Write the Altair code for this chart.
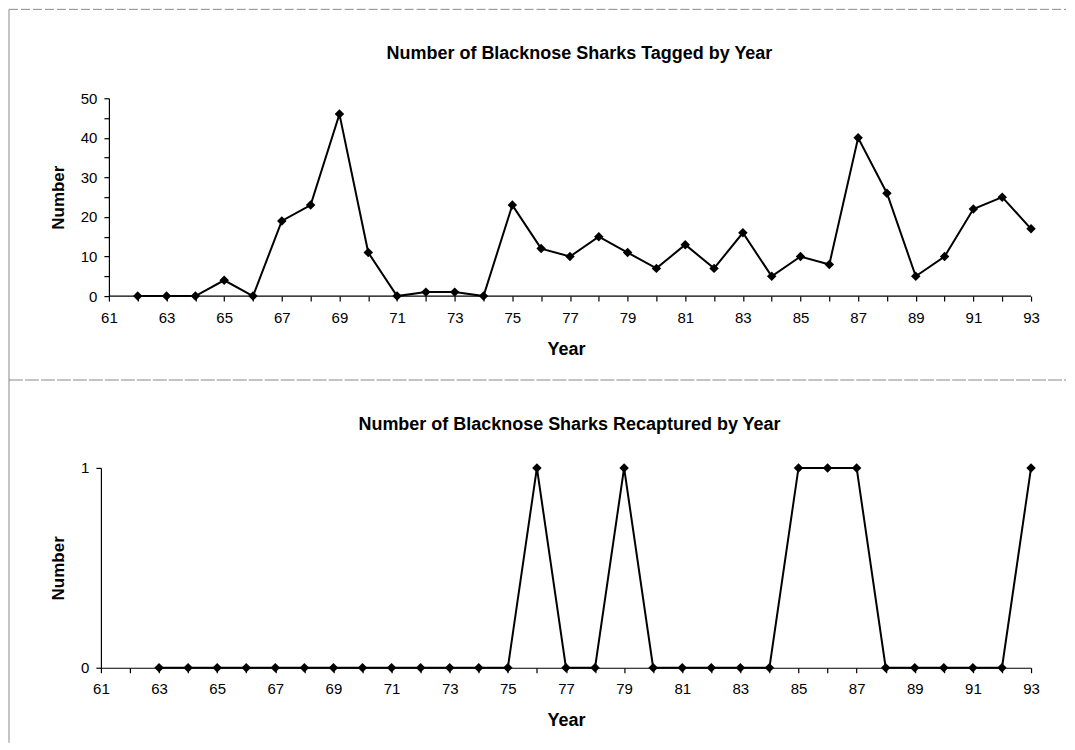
import altair as alt
import pandas as pd

# ---- data ----
tag_years = [62, 63, 64, 65, 66, 67, 68, 69, 70, 71, 72, 73, 74, 75, 76, 77,
             78, 79, 80, 81, 82, 83, 84, 85, 86, 87, 88, 89, 90, 91, 92, 93]
tagged = [0, 0, 0, 4, 0, 19, 23, 46, 11, 0, 1, 1, 0, 23, 12, 10,
          15, 11, 7, 13, 7, 16, 5, 10, 8, 40, 26, 5, 10, 22, 25, 17]

recap_years = [63, 64, 65, 66, 67, 68, 69, 70, 71, 72, 73, 74, 75, 76, 77, 78,
               79, 80, 81, 82, 83, 84, 85, 86, 87, 88, 89, 90, 91, 92, 93]
recaptured = [0, 0, 0, 0, 0, 0, 0, 0, 0, 0, 0, 0, 0, 1, 0, 0,
              1, 0, 0, 0, 0, 0, 1, 1, 1, 0, 0, 0, 0, 0, 1]

year_ticks = list(range(61, 94))
top_y_ticks = [0, 5, 10, 15, 20, 25, 30, 35, 40, 45, 50]
bottom_y_ticks = [0, 0.5, 1]
axis_start = [61]
axis_end = [93]
axis_zero = [0]

title_top = "Number of Blacknose Sharks Tagged by Year"
title_bottom = "Number of Blacknose Sharks Recaptured by Year"

FONT = "Liberation Sans"
W = 931

df_top = pd.DataFrame({"Year": tag_years, "Number": tagged})
df_bot = pd.DataFrame({"Year": recap_years, "Number": recaptured})
df_base = pd.DataFrame({"Year": axis_start, "YearEnd": axis_end, "Number": axis_zero})

x_axis_common = dict(
    values=year_ticks, format="d", labelExpr="datum.value % 2 == 1 ? datum.label : ''",
    labelOverlap=False, labelFlush=False, tickSize=5, labelPadding=9,
    titlePadding=15, grid=False, tickColor="black", domainColor="black",
    labelColor="black", titleColor="black", labelFontSize=15, titleFontSize=18,
    labelFont=FONT, titleFont=FONT, titleFontWeight="bold", domainWidth=1.2, tickWidth=1.2,
)

def y_axis(vals, label_expr, offset=0):
    return alt.Axis(
        values=vals, labelExpr=label_expr, format="d", labelOverlap=False, grid=False,
        tickSize=5, labelPadding=7, titlePadding=13, tickColor="black", domainColor="black",
        labelColor="black", titleColor="black", labelFontSize=15, titleFontSize=17,
        labelFont=FONT, titleFont=FONT, titleFontWeight="bold", offset=offset,
        domainWidth=1.2, tickWidth=1.2,
    )

def title_mark(text, x, y):
    return alt.Chart().mark_text(
        font=FONT, fontSize=18, fontWeight="bold", color="black",
        align="center", baseline="alphabetic",
    ).encode(x=alt.value(x), y=alt.value(y), text=alt.value(text))

# ---------- top chart ----------
top_x = alt.X("Year:Q", scale=alt.Scale(domain=[60.7226, 93], nice=False, zero=False),
              axis=alt.Axis(domain=False, **x_axis_common), title="Year")
top_y = alt.Y("Number:Q", scale=alt.Scale(domain=[0, 50], nice=False),
              axis=y_axis(top_y_ticks, "datum.value % 10 == 0 ? datum.label : ''", offset=-8),
              title="Number")

top_base = alt.Chart(df_top).encode(x=top_x, y=top_y)
top_line = top_base.mark_line(color="black", strokeWidth=2)
top_pts = top_base.mark_point(shape="diamond", filled=True, color="black", size=90, opacity=1)
top_baseline = alt.Chart(df_base).mark_rule(color="black", strokeWidth=1.2).encode(
    x=top_x, x2="YearEnd:Q", y=top_y
)

frame_color = "#8a8a8a"
frame_top = alt.Chart().mark_rule(color=frame_color, strokeWidth=1, strokeDash=[9, 3]).encode(
    x=alt.value(-92), x2=alt.value(966), y=alt.value(-89))
frame_left = alt.Chart().mark_rule(color=frame_color, strokeWidth=1).encode(
    x=alt.value(-92), y=alt.value(-89), y2=alt.value(645))
frame_mid = alt.Chart().mark_rule(color=frame_color, strokeWidth=1.2, strokeDash=[14, 2]).encode(
    x=alt.value(-92), x2=alt.value(966), y=alt.value(282))

top = alt.layer(
    frame_top, frame_left, frame_mid, title_mark(title_top, 479, -39),
    top_baseline, top_line, top_pts,
).properties(width=W, height=198)

# ---------- bottom chart ----------
bot_x = alt.X("Year:Q", scale=alt.Scale(domain=[61, 93], nice=False, zero=False),
              axis=alt.Axis(**x_axis_common), title="Year")
bot_y = alt.Y("Number:Q", scale=alt.Scale(domain=[0, 1], nice=False),
              axis=y_axis(bottom_y_ticks, "datum.value == 0.5 ? '' : datum.label"),
              title="Number")

bot_base = alt.Chart(df_bot).encode(x=bot_x, y=bot_y)
bot_line = bot_base.mark_line(color="black", strokeWidth=2)
bot_pts = bot_base.mark_point(shape="diamond", filled=True, color="black", size=90, opacity=1)

bottom = alt.layer(
    title_mark(title_bottom, 469, -38), bot_line, bot_pts,
).properties(width=W, height=200)

chart = alt.vconcat(top, bottom, spacing=172, bounds="flush").properties(
    padding={"left": 0, "top": 0, "right": 0, "bottom": 5},
    background="white",
).configure_view(stroke=None)

chart.save("out.html", embed_options={"renderer": "svg", "actions": False})
